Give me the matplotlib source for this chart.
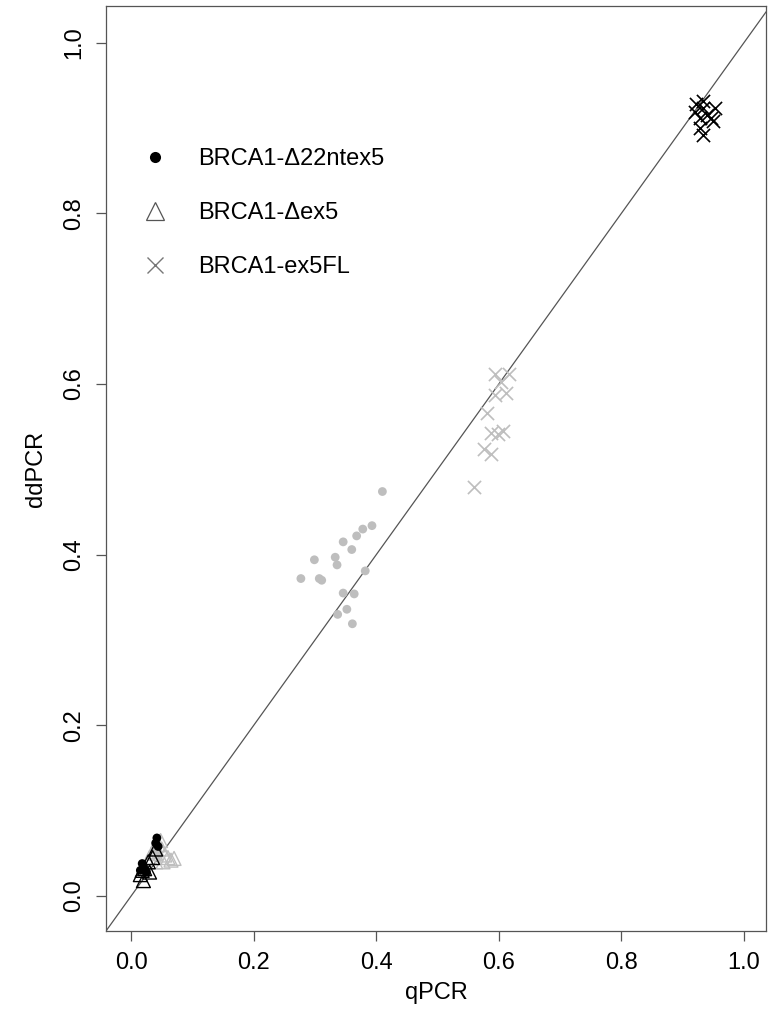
import matplotlib
matplotlib.use("Agg")
import matplotlib.pyplot as plt
from matplotlib.lines import Line2D


# Colours used for the two sample groups
BLACK = "#000000"
GRAY = "#BEBEBE"

# BRCA1-delta22ntex5 (circles)
circ_black_x = [0.015, 0.020, 0.025, 0.018, 0.042, 0.040, 0.044]
circ_black_y = [0.030, 0.035, 0.028, 0.038, 0.068, 0.062, 0.058]
circ_gray_x = [0.410, 0.393, 0.378, 0.368, 0.346, 0.360, 0.299, 0.333, 0.336,
               0.277, 0.307, 0.311, 0.382, 0.346, 0.364, 0.352, 0.337, 0.361,
               0.042, 0.045, 0.038]
circ_gray_y = [0.474, 0.434, 0.430, 0.422, 0.415, 0.406, 0.394, 0.397, 0.388,
               0.372, 0.372, 0.370, 0.381, 0.355, 0.354, 0.336, 0.330, 0.319,
               0.062, 0.050, 0.055]

# BRCA1-delta ex5 (triangles)
tri_black_x = [0.015, 0.020, 0.022, 0.030, 0.028, 0.018, 0.035, 0.040]
tri_black_y = [0.025, 0.018, 0.032, 0.028, 0.040, 0.030, 0.045, 0.055]
tri_gray_x = [0.030, 0.040, 0.045, 0.050, 0.055, 0.060, 0.065, 0.070,
              0.040, 0.048, 0.035, 0.052]
tri_gray_y = [0.045, 0.050, 0.060, 0.055, 0.048, 0.045, 0.042, 0.044,
              0.040, 0.065, 0.052, 0.040]

# BRCA1-ex5FL (crosses)
cross_black_x = [0.922, 0.934, 0.933, 0.953, 0.920, 0.939, 0.947, 0.950,
                 0.928, 0.928, 0.933]
cross_black_y = [0.928, 0.932, 0.924, 0.923, 0.919, 0.915, 0.912, 0.908,
                 0.912, 0.900, 0.892]
cross_gray_x = [0.593, 0.617, 0.603, 0.594, 0.612, 0.580, 0.588, 0.599,
                0.607, 0.576, 0.588, 0.560]
cross_gray_y = [0.612, 0.612, 0.602, 0.587, 0.590, 0.566, 0.543, 0.542,
                0.545, 0.524, 0.518, 0.479]

legend_labels = ["BRCA1-\u039422ntex5", "BRCA1-\u0394ex5", "BRCA1-ex5FL"]
ticks = [0.0, 0.2, 0.4, 0.6, 0.8, 1.0]

plt.rcParams["font.family"] = ["Liberation Sans", "DejaVu Sans"]
FONT = 17

fig = plt.figure(figsize=(7.7, 10.19), dpi=100)
ax = fig.add_axes([0.1377, 0.0864, 0.8571, 0.9077])

# Identity line
ax.axline((0, 0), (1, 1), color="#555555", linewidth=0.9, zorder=1)

ax.scatter(circ_gray_x, circ_gray_y, s=40, marker="o", color=GRAY,
           edgecolors="none", zorder=2)
ax.scatter(tri_gray_x, tri_gray_y, s=100, marker="^", facecolors="none",
           edgecolors=GRAY, linewidths=1.0, zorder=2)
ax.scatter(cross_gray_x, cross_gray_y, s=90, marker="x", color=GRAY,
           linewidths=1.2, zorder=2)

ax.scatter(circ_black_x, circ_black_y, s=40, marker="o", color=BLACK,
           edgecolors="none", zorder=3)
ax.scatter(tri_black_x, tri_black_y, s=100, marker="^", facecolors="none",
           edgecolors=BLACK, linewidths=1.0, zorder=3)
ax.scatter(cross_black_x, cross_black_y, s=90, marker="x", color=BLACK,
           linewidths=1.2, zorder=3)

ax.set_xlim(-0.041, 1.036)
ax.set_ylim(-0.041, 1.043)
ax.set_xticks(ticks)
ax.set_yticks(ticks)
ax.set_xticklabels([f"{t:.1f}" for t in ticks], fontsize=FONT)
ax.set_yticklabels([f"{t:.1f}" for t in ticks], fontsize=FONT,
                   rotation=90, va="center")
ax.tick_params(direction="out", length=7, width=0.9, color="#555555", pad=8)

for spine in ax.spines.values():
    spine.set_color("#555555")
    spine.set_linewidth(0.9)

ax.set_xlabel("qPCR", fontsize=FONT, labelpad=6)
ax.set_ylabel("ddPCR", fontsize=FONT, labelpad=12)

handles = [
    Line2D([], [], linestyle="none", marker="o", markersize=8,
           color=BLACK, markeredgecolor="none"),
    Line2D([], [], linestyle="none", marker="^", markersize=13,
           markerfacecolor="none", markeredgecolor="#555555",
           markeredgewidth=0.9),
    Line2D([], [], linestyle="none", marker="x", markersize=11,
           color="#777777", markeredgewidth=1.0),
]
ax.legend(handles, legend_labels, loc="upper left",
          bbox_to_anchor=(0.015, 0.869), frameon=False, fontsize=FONT,
          labelspacing=1.35, handletextpad=1.1, handlelength=1.5)

fig.savefig("out.png", dpi=100)
